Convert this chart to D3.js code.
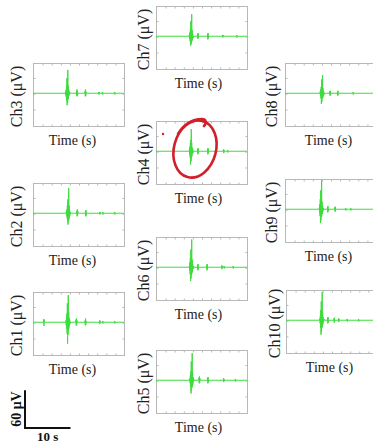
<!DOCTYPE html>
<html>
<head>
<meta charset="utf-8">
<script src="https://cdn.jsdelivr.net/npm/d3@7"></script>
<style>
  html, body { margin: 0; padding: 0; background: #fff; }
  svg { display: block; }
</style>
</head>
<body>
<svg id="chart" width="373" height="446"></svg>
<script>
// ---------------- DATA ----------------
const timeDomain = [0, 20];     // seconds
const ampDomain = [-52, 48];    // microvolts
const channelNames = ["Ch1","Ch2","Ch3","Ch4","Ch5","Ch6","Ch7","Ch8","Ch9","Ch10"];
const xLabel = "Time (s)";
const scaleBarAmp = 60;   // μV
const scaleBarTime = 10;  // s
const scaleBarAmpLabel = "60 μV";
const scaleBarTimeLabel = "10 s";

// [time (s), amplitude (μV)] samples
const ch1 = [[0,0],[2.3,0],[2.35,5],[2.4,-6],[2.45,4],[2.5,0],[7.2,0],[7.25,3],[7.3,-5],[7.35,8],[7.4,-10],[7.45,14],[7.5,-18],[7.55,30],[7.6,-34],[7.65,22],[7.7,-20],[7.75,43],[7.8,-14],[7.85,16],[7.9,-10],[7.95,7],[8.0,-5],[8.1,3],[8.2,-2],[8.3,0],
  [9.4,0],[9.45,4],[9.5,-5],[9.55,6],[9.6,-5],[9.65,3],[9.75,0],[11.4,0],[11.45,3],[11.5,-5],[11.55,6],[11.6,-4],[11.7,2],[11.8,0],
  [14.6,0],[14.65,3],[14.7,-3],[14.75,2],[14.8,0],[15.3,0],[15.35,2],[15.4,-2],[15.45,0],[17.9,0],[17.95,2],[18.0,-2],[18.05,0],[20,0]];
const ch2 = [[0,0],[7.3,0],[7.35,3],[7.4,-4],[7.45,6],[7.5,-8],[7.55,12],[7.6,-14],[7.65,22],[7.7,-18],[7.75,15],[7.8,-12],[7.85,40],[7.9,-10],[7.95,12],[8.0,-7],[8.05,5],[8.1,-4],[8.2,2],[8.3,0],
  [9.6,0],[9.65,4],[9.7,-5],[9.75,6],[9.8,-4],[9.85,3],[9.95,0],[11.5,0],[11.55,4],[11.6,-5],[11.65,5],[11.7,-3],[11.8,0],
  [14.6,0],[14.65,2],[14.7,-2],[14.75,2],[14.8,0],[15.3,0],[15.35,2],[15.4,-2],[15.45,0],[17.9,0],[17.95,2],[18.0,-2],[18.05,0],[20,0]];
const ch3 = [[0,0],[7.1,0],[7.15,2],[7.2,-3],[7.25,5],[7.3,-6],[7.35,9],[7.4,-12],[7.45,24],[7.5,-19],[7.55,14],[7.6,-15],[7.65,37],[7.7,-10],[7.75,12],[7.8,-8],[7.85,6],[7.9,-4],[7.95,3],[8.05,-2],[8.15,1],[8.25,0],
  [9.5,0],[9.55,3],[9.6,-4],[9.65,6],[9.7,-5],[9.75,4],[9.8,-3],[9.9,0],[11.4,0],[11.45,4],[11.5,-5],[11.55,6],[11.6,-4],[11.7,2],[11.8,0],
  [14.4,0],[14.45,2],[14.5,-2],[14.55,2],[14.6,0],[15.2,0],[15.25,2],[15.3,-2],[15.35,0],[17.9,0],[17.95,2],[18.0,-2],[18.05,0],[20,0]];
const ch4 = [[0,0],[7.3,0],[7.35,3],[7.4,-5],[7.45,7],[7.5,-10],[7.55,13],[7.6,-21],[7.65,18],[7.7,-16],[7.75,35],[7.8,-12],[7.85,14],[7.9,-8],[7.95,6],[8.0,-4],[8.1,3],[8.2,-2],[8.3,0],
  [9.1,0],[9.15,4],[9.2,-5],[9.25,5],[9.3,-3],[9.4,0],[11.3,0],[11.35,4],[11.4,-5],[11.45,5],[11.5,-3],[11.6,0],
  [14.8,0],[14.85,3],[14.9,-3],[14.95,2],[15.0,0],[15.7,0],[15.75,2],[15.8,-2],[15.85,0],[20,0]];
const ch5 = [[0,0],[7.4,0],[7.45,3],[7.5,-5],[7.55,8],[7.6,-10],[7.65,14],[7.7,-21],[7.75,30],[7.8,-17],[7.85,14],[7.9,-12],[7.95,43],[8.0,-10],[8.05,12],[8.1,-7],[8.15,5],[8.2,-3],[8.3,2],[8.4,0],
  [9.4,0],[9.45,4],[9.5,-5],[9.55,6],[9.6,-4],[9.65,3],[9.75,0],[11.3,0],[11.35,4],[11.4,-5],[11.45,5],[11.5,-3],[11.6,0],
  [14.8,0],[14.85,3],[14.9,-3],[14.95,2],[15.0,0],[17.4,0],[17.45,2],[17.5,-2],[17.55,0],[20,0]];
const ch6 = [[0,0],[7.3,0],[7.35,3],[7.4,-5],[7.45,8],[7.5,-11],[7.55,15],[7.6,-22],[7.65,28],[7.7,-18],[7.75,14],[7.8,-12],[7.85,44],[7.9,-10],[7.95,12],[8.0,-7],[8.05,5],[8.15,-3],[8.25,2],[8.35,0],
  [9.1,0],[9.15,4],[9.2,-5],[9.25,5],[9.3,-3],[9.4,0],[11.1,0],[11.15,4],[11.2,-5],[11.25,5],[11.3,-3],[11.4,0],
  [14.4,0],[14.45,3],[14.5,-3],[14.55,2],[14.6,0],[14.9,0],[14.95,2],[15.0,-2],[15.05,0],[16.9,0],[16.95,2],[17.0,-2],[17.05,0],[20,0]];
const ch7 = [[0,0],[7.3,0],[7.35,3],[7.4,-4],[7.45,6],[7.5,-8],[7.55,11],[7.6,-15],[7.65,24],[7.7,-13],[7.75,12],[7.8,-10],[7.85,35],[7.9,-8],[7.95,10],[8.0,-6],[8.05,4],[8.15,-3],[8.25,0],
  [9.1,0],[9.15,3],[9.2,-4],[9.25,5],[9.3,-3],[9.4,0],[11.3,0],[11.35,4],[11.4,-5],[11.45,5],[11.5,-3],[11.6,0],
  [14.6,0],[14.65,2],[14.7,-2],[14.75,2],[14.8,0],[17.7,0],[17.75,2],[17.8,-2],[17.85,0],[20,0]];
const ch8 = [[0,0],[7.7,0],[7.75,3],[7.8,-4],[7.85,6],[7.9,-8],[7.95,10],[8.0,-17],[8.05,22],[8.1,-14],[8.15,12],[8.2,-9],[8.25,29],[8.3,-7],[8.35,8],[8.4,-5],[8.5,3],[8.6,-2],[8.7,0],
  [9.8,0],[9.85,3],[9.9,-4],[9.95,4],[10.0,-3],[10.1,0],[11.5,0],[11.55,3],[11.6,-4],[11.65,4],[11.7,-2],[11.8,0],
  [14.9,0],[14.95,2],[15.0,-2],[15.05,0],[20,0]];
const ch9 = [[0,0],[7.5,0],[7.55,3],[7.6,-5],[7.65,8],[7.7,-11],[7.75,16],[7.8,-22],[7.85,30],[7.9,-18],[7.95,14],[8.0,-12],[8.05,46],[8.1,-10],[8.15,12],[8.2,-7],[8.25,5],[8.35,-3],[8.45,2],[8.55,0],
  [9.3,0],[9.35,4],[9.4,-5],[9.45,5],[9.5,-3],[9.6,0],[10.9,0],[10.95,3],[11.0,-4],[11.05,4],[11.1,-2],[11.2,0],
  [13.3,0],[13.35,2],[13.4,-2],[13.45,0],[14.4,0],[14.45,2],[14.5,-2],[14.55,0],[20,0]];
const ch10 = [[0,0],[7.4,0],[7.45,3],[7.5,-5],[7.55,8],[7.6,-12],[7.65,16],[7.7,-23],[7.75,30],[7.8,-19],[7.85,15],[7.9,-12],[7.95,45],[8.0,-10],[8.05,12],[8.1,-7],[8.15,5],[8.25,-3],[8.35,2],[8.45,0],
  [9.1,0],[9.15,4],[9.2,-5],[9.25,5],[9.3,-3],[9.4,0],[10.5,0],[10.55,3],[10.6,-4],[10.65,4],[10.7,-2],[10.8,0],[11.5,0],[11.55,3],[11.6,-3],[11.65,2],[11.7,0],
  [13.4,0],[13.45,2],[13.5,-2],[13.55,0],[15.9,0],[15.95,2],[16.0,-2],[16.05,0],[20,0]];

const signals = {Ch1: ch1, Ch2: ch2, Ch3: ch3, Ch4: ch4, Ch5: ch5, Ch6: ch6, Ch7: ch7, Ch8: ch8, Ch9: ch9, Ch10: ch10};

// ---------------- LAYOUT ----------------
const panelW = 91, panelH = 63;
const layout = {
  Ch3:  {x: 33,  y: 63,  lab: 16, tx: -6},
  Ch2:  {x: 33,  y: 183, lab: 16, tx: -6},
  Ch1:  {x: 33,  y: 292, lab: 16, tx: -6},
  Ch7:  {x: 156, y: 6,   lab: 12, tx: -3},
  Ch4:  {x: 156, y: 121, lab: 12, tx: -3},
  Ch6:  {x: 156, y: 237, lab: 12, tx: -3},
  Ch5:  {x: 156, y: 350, lab: 12, tx: -3},
  Ch8:  {x: 285, y: 63,  lab: 13, tx: -2},
  Ch9:  {x: 285, y: 179, lab: 13, tx: -2},
  Ch10: {x: 286, y: 290, lab: 11, tx: -2}
};

const svg = d3.select("#chart");
svg.append("rect").attr("width", 373).attr("height", 446).attr("fill", "#fff");

const x = d3.scaleLinear().domain(timeDomain).range([0, panelW]);
const y = d3.scaleLinear().domain(ampDomain).range([panelH, 0]);
const line = d3.line().x(d => x(d[0])).y(d => y(d[1]));
const serif = "'Liberation Serif', 'DejaVu Serif', serif";

channelNames.forEach(name => {
  const L = layout[name];
  const g = svg.append("g").attr("transform", `translate(${L.x},${L.y})`);

  // frame
  g.append("rect").attr("x", 0.5).attr("y", 0.5).attr("width", panelW).attr("height", panelH)
    .attr("fill", "#fff").attr("stroke", "#b8b8b8").attr("stroke-width", 1);

  // inward ticks
  const xt = d3.axisBottom(x).tickValues(d3.range(2, 20, 2)).tickSize(-2).tickFormat("");
  const xtTop = d3.axisTop(x).tickValues(d3.range(2, 20, 2)).tickSize(-2).tickFormat("");
  const yt = d3.axisLeft(y).tickValues([-25, 0, 25]).tickSize(-2).tickFormat("");
  const ytR = d3.axisRight(y).tickValues([-25, 0, 25]).tickSize(-2).tickFormat("");
  [[xt, `translate(0.5,${panelH + 0.5})`], [xtTop, "translate(0.5,0.5)"],
   [yt, "translate(0.5,0.5)"], [ytR, `translate(${panelW + 0.5},0.5)`]].forEach(([ax, tr]) => {
    const a = g.append("g").attr("transform", tr).call(ax);
    a.select(".domain").remove();
    a.selectAll("line").attr("stroke", "#b8b8b8");
  });

  // signal
  g.append("path").datum(signals[name]).attr("d", line)
    .attr("fill", "none").attr("stroke", "#3ddc3d").attr("stroke-width", 1)
    .attr("stroke-linejoin", "round");

  // labels
  g.append("text").attr("x", panelW / 2 + L.tx).attr("y", panelH + 19)
    .attr("text-anchor", "middle").attr("font-family", serif).attr("font-size", 14)
    .attr("fill", "#222").text(xLabel);
  g.append("text").attr("transform", `translate(${-L.lab + 5},${panelH / 2 + 2}) rotate(-90)`)
    .attr("text-anchor", "middle").attr("font-family", serif).attr("font-size", 16)
    .attr("fill", "#222").text(`${name} (μV)`);
});

// scale bar
const sbX = 25, sbY = 428;
const ampPx = y(0) - y(scaleBarAmp);
const timePx = x(scaleBarTime) - x(0);
svg.append("path").attr("d", `M${sbX},${sbY - ampPx} L${sbX},${sbY} L${sbX + timePx},${sbY}`)
  .attr("fill", "none").attr("stroke", "#111").attr("stroke-width", 2);
svg.append("text").attr("transform", `translate(${sbX - 4},${sbY - ampPx / 2}) rotate(-90)`)
  .attr("text-anchor", "middle").attr("font-family", serif).attr("font-weight", "bold")
  .attr("font-size", 14).attr("fill", "#111").text(scaleBarAmpLabel);
svg.append("text").attr("x", sbX + timePx / 2).attr("y", sbY + 13)
  .attr("text-anchor", "middle").attr("font-family", serif).attr("font-weight", "bold")
  .attr("font-size", 13).attr("fill", "#111").text(scaleBarTimeLabel);

// hand-drawn red annotation over Ch4
const ann = svg.append("g").attr("fill", "none").attr("stroke", "#d11f2b")
  .attr("stroke-width", 2.6).attr("stroke-linecap", "round");
ann.append("ellipse").attr("cx", 195).attr("cy", 149).attr("rx", 21).attr("ry", 29)
  .attr("transform", "rotate(15,195,149)");
ann.append("path").attr("d", "M178,134 C184,124 192,119 202,119 C206,119 207,123 204,126");
svg.append("circle").attr("cx", 163).attr("cy", 134).attr("r", 1.2).attr("fill", "#d11f2b");
</script>
</body>
</html>
